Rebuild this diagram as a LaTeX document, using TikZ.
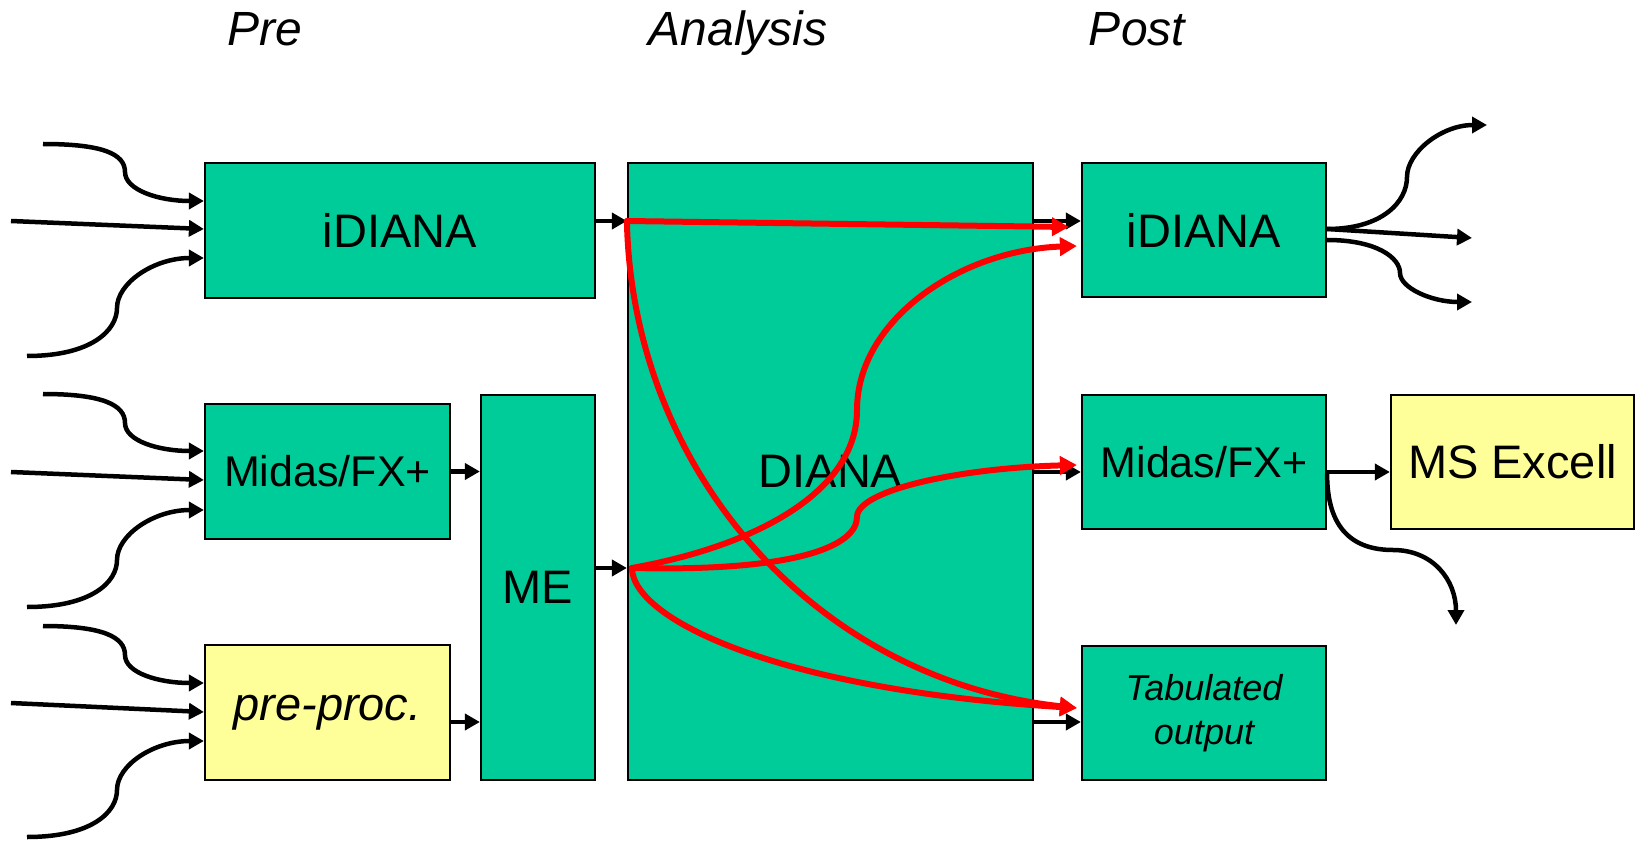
\documentclass[tikz,border=0pt]{standalone}
\usepackage{fontspec}
\setmainfont{Liberation Sans}
\usetikzlibrary{arrows.meta}
\definecolor{boxgreen}{HTML}{00CC99}
\definecolor{boxyellow}{HTML}{FFFF99}
\definecolor{flowred}{HTML}{FF0000}
\tikzset{
  box/.style={draw=black, line width=2.2pt, fill=boxgreen, inner sep=0pt, font=\fontsize{47}{56}\selectfont},
  ybox/.style={box, fill=boxyellow},
  head/.style={anchor=base, inner sep=0pt, font=\fontsize{48}{56}\selectfont\itshape},
  blk/.style={draw=black, line width=4.5pt, -{Triangle[length=15pt,width=16pt]}},
  rflow/.style={draw=flowred, line width=6pt, line cap=round, line join=round, -{Triangle[length=17pt,width=18pt]}}
}
\begin{document}
\begin{tikzpicture}[x=1pt,y=-1pt]
\useasboundingbox (0,0) rectangle (1642,842);

% headings
\node[head] (hpre) at (265,46) {Pre};
\node[head] (hana) at (738,46) {Analysis};
\node[head] (hpost) at (1137,46) {Post};

% boxes
\node[box, minimum width=390pt, minimum height=135pt] (idpre) at (400,230.5) {iDIANA};
\node[box, minimum width=245pt, minimum height=135pt, font=\fontsize{43}{50}\selectfont] (midpre) at (327.5,471.5) {Midas/FX+};
\node[ybox, minimum width=245pt, minimum height=135pt, font=\fontsize{47}{56}\selectfont\itshape] (pp) at (327.5,712.5) {pre-proc.};
\node[box, minimum width=114pt, minimum height=385pt] (me) at (538,587.5) {ME};
\node[box, minimum width=405pt, minimum height=617pt] (dia) at (830.5,471.5) {DIANA};
\node[box, minimum width=244pt, minimum height=134pt] (idpost) at (1204,230) {iDIANA};
\node[box, minimum width=244pt, minimum height=134pt, font=\fontsize{43}{50}\selectfont] (midpost) at (1204,462) {Midas/FX+};
\node[box, minimum width=244pt, minimum height=134pt, align=center, font=\fontsize{36}{44}\selectfont\itshape] (tab) at (1204,713) {Tabulated\\output};
\node[ybox, minimum width=243pt, minimum height=134pt] (xl) at (1512.5,462) {MS Excell};

% free ends of inputs
\coordinate (i1a) at (43,144);
\coordinate (i1b) at (11,221);
\coordinate (i1c) at (27,356);
\coordinate (i2a) at (43,394);
\coordinate (i2b) at (11,472);
\coordinate (i2c) at (27,607);
\coordinate (i3a) at (43,626);
\coordinate (i3b) at (11,703);
\coordinate (i3c) at (27,837);

% inputs to iDIANA (pre)
\draw[blk] (i1a) .. controls +(60,0) and +(0,-18) .. (125,172) .. controls +(0,18) and +(-45,0) .. ([yshift=29.5pt]idpre.west);
\draw[blk] (i1b) -- ([yshift=1.5pt]idpre.west);
\draw[blk] (i1c) .. controls +(65,0) and +(0,22) .. (117,308) .. controls +(0,-25) and +(-50,0) .. ([yshift=-27.5pt]idpre.west);
% inputs to Midas (pre)
\draw[blk] (i2a) .. controls +(60,0) and +(0,-18) .. (125,423) .. controls +(0,18) and +(-45,0) .. ([yshift=20.5pt]midpre.west);
\draw[blk] (i2b) -- ([yshift=-8.5pt]midpre.west);
\draw[blk] (i2c) .. controls +(65,0) and +(0,22) .. (117,560) .. controls +(0,-25) and +(-50,0) .. ([yshift=-38.5pt]midpre.west);
% inputs to pre-proc
\draw[blk] (i3a) .. controls +(60,0) and +(0,-18) .. (125,655) .. controls +(0,18) and +(-45,0) .. ([yshift=29.5pt]pp.west);
\draw[blk] (i3b) -- ([yshift=0.5pt]pp.west);
\draw[blk] (i3c) .. controls +(65,0) and +(0,22) .. (117,790) .. controls +(0,-25) and +(-50,0) .. ([yshift=-28.5pt]pp.west);

% black links between boxes
\coordinate (p1) at ([yshift=9.5pt]idpre.east);
\coordinate (p2) at ([yshift=-9.5pt]pp.east);
\coordinate (p3) at ([yshift=19.5pt]me.east);
\coordinate (p5) at ([yshift=-10pt]midpost.west);
\coordinate (p6) at ([yshift=-9pt]tab.west);
\draw[blk] (p1) -- (p1 -| dia.west);
\draw[blk] (midpre.east) -- (midpre.east -| me.west);
\draw[blk] (p2) -- (p2 -| me.west);
\draw[blk] (p3) -- (p3 -| dia.west);
\draw[blk] (dia.east |- p1) -- (idpost.west |- p1);
\draw[blk] (dia.east |- p5) -- (p5);
\draw[blk] (dia.east |- p6) -- (p6);
\draw[blk] ([yshift=-10pt]midpost.east) -- ([yshift=-10pt]xl.west);

% outputs
\coordinate (o1) at (1487,125);
\coordinate (o2) at (1472,238);
\coordinate (o3) at (1472,302);
\coordinate (o4) at (1456,625);
\draw[blk] ([yshift=1pt]idpost.east) .. controls +(55,0) and +(0,25) .. (1407,177) .. controls +(0,-25) and +(-45,0) .. (o1);
\draw[blk] ([yshift=1pt]idpost.east) -- (o2);
\draw[blk] ([yshift=-10pt]idpost.east) .. controls +(50,0) and +(0,-15) .. (1400,273) .. controls +(0,15) and +(-40,0) .. (o3);
\draw[blk] ([yshift=-12pt]midpost.east) .. controls +(0,55) and +(-40,0) .. (1393,550) .. controls +(40,0) and +(0,-45) .. (o4);

% red flows
\coordinate (rt) at (p1 -| dia.west);
\coordinate (rb0) at (p3 -| dia.west);
\coordinate (rb) at ([xshift=5pt]rb0);
\draw[rflow] (rt) -- ([xshift=-12pt,yshift=3pt]idpost.west);
\draw[rflow] (rt) .. controls (632,470) and (815,680) .. ([xshift=-4pt,yshift=5pt]tab.west);
\draw[rflow] (rb) .. controls (760,545) and (857,490) .. (857,410) .. controls (857,320) and (960,250) .. ([xshift=-4pt,yshift=-16pt]idpost.west);
\draw[rflow] (rb) .. controls (800,572) and (857,545) .. (857,517) .. controls (857,490) and (960,468) .. ([xshift=-4pt,yshift=-3pt]midpost.west);
\draw[rflow] (rb) .. controls (633,620) and (780,690) .. ([xshift=-4pt,yshift=5pt]tab.west);
\end{tikzpicture}
\end{document}
